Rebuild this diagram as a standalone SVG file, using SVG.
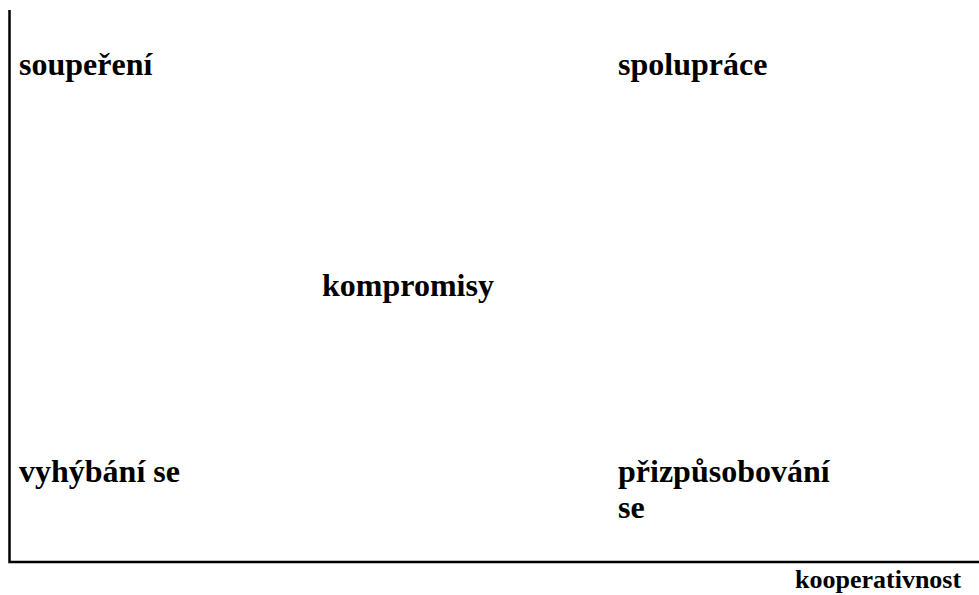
<svg xmlns="http://www.w3.org/2000/svg" width="979" height="595" viewBox="0 0 979 595">
<style>
.t{font-family:"Liberation Serif","Times New Roman",serif;font-weight:bold;font-size:32px;fill:#000}
.s{font-size:26px}
.ax{stroke:#000;stroke-width:2.5;fill:none}
</style>
<rect width="979" height="595" fill="#fff"/>
<g id="axes">
<path class="ax" d="M9.5,10 V562 H979"/>
</g>
<g id="souperení"><text class="t" x="19" y="75">soupeření</text></g>
<g id="spoluprace"><text class="t" x="618" y="75">spolupráce</text></g>
<g id="kompromisy"><text class="t" x="322" y="296">kompromisy</text></g>
<g id="vyhybani"><text class="t" x="19" y="482">vyhýbání se</text></g>
<g id="prizpusobovani"><text class="t" x="618" y="482">přizpůsobování</text><text class="t" x="618" y="518">se</text></g>
<g id="kooperativnost"><text class="t s" x="795" y="588">kooperativnost</text></g>
</svg>
